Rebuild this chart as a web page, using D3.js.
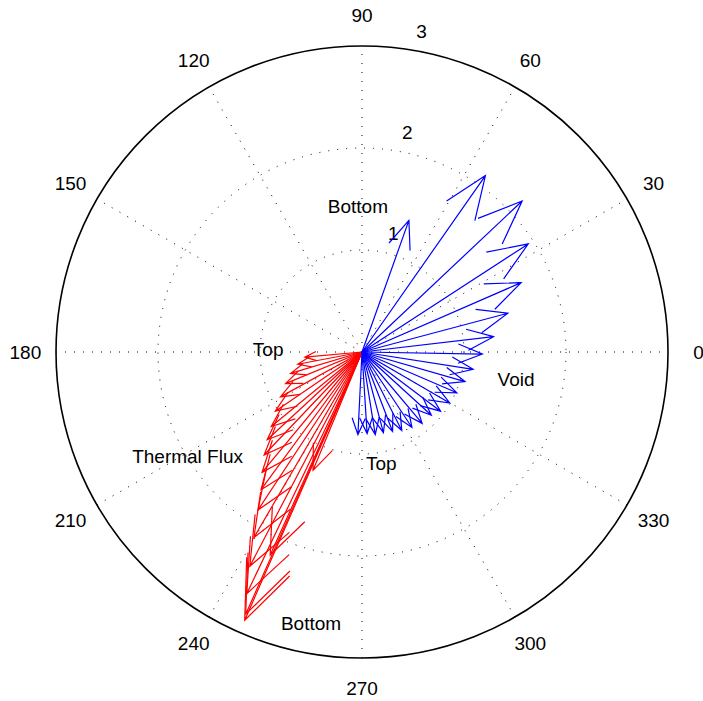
<!DOCTYPE html>
<html>
<head>
<meta charset="utf-8">
<script src="https://cdn.jsdelivr.net/npm/d3@7"></script>
<style>
  html, body { margin: 0; padding: 0; background: #fff; }
  svg { display: block; }
  text { font-family: "Liberation Sans", Arial, Helvetica, sans-serif; fill: #000; }
</style>
</head>
<body>
<svg id="chart" width="703" height="701"></svg>
<script>
// ---- data (vector components, data units) ----
const voidU = [0.46, 1.21, 1.57, 1.63, 1.56, 1.43, 1.29, 1.18, 1.09, 1.01, 0.93, 0.86, 0.77, 0.68, 0.59, 0.49, 0.39, 0.30, 0.21, 0.13, 0.05, -0.04];
const voidV = [1.29, 1.73, 1.48, 1.06, 0.68, 0.38, 0.15, -0.02, -0.17, -0.29, -0.40, -0.50, -0.58, -0.62, -0.70, -0.74, -0.77, -0.78, -0.79, -0.81, -0.80, -0.81];

const fluxU = [-0.56, -0.63, -0.70, -0.75, -0.80, -0.85, -0.89, -0.93, -0.96, -0.98, -0.99, -1.02, -1.06, -1.10, -1.13, -1.15, -1.14, -0.90, -0.48];
const fluxV = [-0.05, -0.12, -0.21, -0.31, -0.44, -0.58, -0.73, -0.86, -1.01, -1.18, -1.35, -1.55, -1.82, -2.10, -2.37, -2.63, -2.57, -1.99, -1.16];

const ringValues = [1, 2, 3];
const spokeAngles = [0, 30, 60, 90, 120, 150];
const angleLabels = [0, 30, 60, 90, 120, 150, 180, 210, 240, 270, 300, 330];

const annotations = [
  { text: "Bottom", x: -0.04, y: 1.43 },
  { text: "Top", x: -0.92, y: 0.02 },
  { text: "Void", x: 1.51, y: -0.27 },
  { text: "Top", x: 0.19, y: -1.09 },
  { text: "Thermal Flux", x: -1.71, y: -1.02 },
  { text: "Bottom", x: -0.50, y: -2.66 }
];

// ---- scales ----
const rmax = 3;
const cx = 362, cy = 352, R = 306;
const x = d3.scaleLinear().domain([-rmax, rmax]).range([cx - R, cx + R]);
const y = d3.scaleLinear().domain([-rmax, rmax]).range([cy + R, cy - R]);
const r = d3.scaleLinear().domain([0, rmax]).range([0, R]);

const svg = d3.select("#chart");
const grid = svg.append("g");

// dotted inner rings
grid.selectAll("circle.ring")
  .data(ringValues.filter(v => v < rmax))
  .join("circle")
  .attr("cx", x(0)).attr("cy", y(0))
  .attr("r", d => r(d))
  .attr("fill", "none")
  .attr("stroke", "#000")
  .attr("stroke-width", 1)
  .attr("stroke-dasharray", "1 8");

// dotted spokes (full diameters)
grid.selectAll("line.spoke")
  .data(spokeAngles)
  .join("line")
  .attr("x1", d => x(-rmax * Math.cos(d * Math.PI / 180)))
  .attr("y1", d => y(-rmax * Math.sin(d * Math.PI / 180)))
  .attr("x2", d => x(rmax * Math.cos(d * Math.PI / 180)))
  .attr("y2", d => y(rmax * Math.sin(d * Math.PI / 180)))
  .attr("stroke", "#000")
  .attr("stroke-width", 1)
  .attr("stroke-dasharray", "1 8");

// outer solid circle
grid.append("circle")
  .attr("cx", x(0)).attr("cy", y(0))
  .attr("r", r(rmax))
  .attr("fill", "none")
  .attr("stroke", "#000")
  .attr("stroke-width", 1.6);

// ring labels at 82 degrees
const a82 = 82 * Math.PI / 180;
grid.selectAll("text.rl")
  .data(ringValues)
  .join("text")
  .attr("x", d => x((d + rmax / 60) * Math.cos(a82)) + 11)
  .attr("y", d => y((d + rmax / 60) * Math.sin(a82)) - 12)
  .attr("dominant-baseline", "central")
  .attr("text-anchor", "start")
  .attr("font-size", 19)
  .text(d => d);

// angle labels
grid.selectAll("text.al")
  .data(angleLabels)
  .join("text")
  .attr("x", d => x(1.1 * rmax * Math.cos(d * Math.PI / 180)))
  .attr("y", d => y(1.1 * rmax * Math.sin(d * Math.PI / 180)))
  .attr("text-anchor", "middle")
  .attr("dominant-baseline", "central")
  .attr("font-size", 19)
  .text(d => d);

// compass arrows (MATLAB-style)
const A = [0, 1, 0.8, 1, 0.8];
const B = [0, 0, 0.08, 0, -0.08];
function arrowPoints(u, v) {
  return A.map((a, i) => [x(a * u - B[i] * v), y(a * v + B[i] * u)]);
}
const line = d3.line();

function drawSeries(U, V, color) {
  const data = U.map((u, i) => ({ u, v: V[i] }));
  svg.append("g").selectAll("path")
    .data(data)
    .join("path")
    .attr("d", d => line(arrowPoints(d.u, d.v)))
    .attr("fill", "none")
    .attr("stroke", color)
    .attr("stroke-width", 1.2)
    .attr("stroke-linejoin", "miter");
}
drawSeries(fluxU, fluxV, "#ff0000");
drawSeries(voidU, voidV, "#0000ff");

// annotations
svg.append("g").selectAll("text")
  .data(annotations)
  .join("text")
  .attr("x", d => x(d.x))
  .attr("y", d => y(d.y))
  .attr("text-anchor", "middle")
  .attr("dominant-baseline", "central")
  .attr("font-size", 19)
  .text(d => d.text);
</script>
</body>
</html>
